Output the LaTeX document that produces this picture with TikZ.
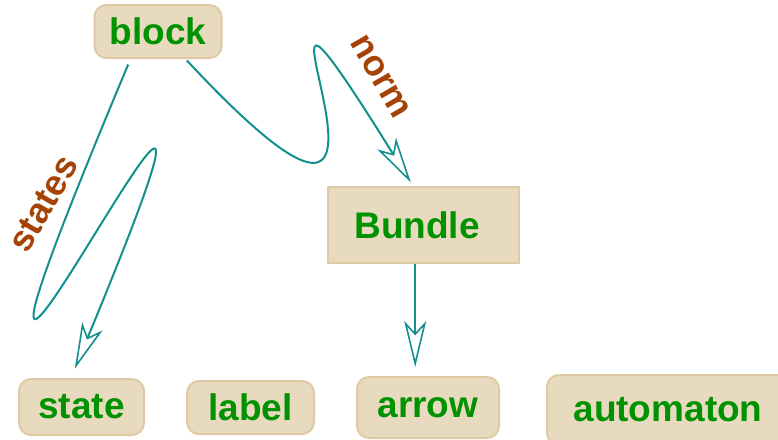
\documentclass[tikz,border=0pt]{standalone}
\usepackage{fontspec}
\setmainfont{Liberation Sans}
\usetikzlibrary{arrows.meta,calc}
\definecolor{boxfill}{RGB}{232,218,190}
\definecolor{boxline}{RGB}{222,202,164}
\definecolor{labelgreen}{RGB}{0,146,0}
\definecolor{edgebrown}{RGB}{165,66,6}
\definecolor{linkteal}{RGB}{18,143,143}
\begin{document}
\begin{tikzpicture}[x=1pt,y=-1pt,
  box/.style={draw=boxline, fill=boxfill, line width=2pt, rounded corners=12pt,
    text=labelgreen, font=\fontsize{37}{40}\selectfont\bfseries, inner sep=0pt},
  sharpbox/.style={box, sharp corners},
  link/.style={draw=linkteal, line width=2pt,
    -{Stealth[open, length=46pt, width=22pt, inset=12pt, line width=1.6pt]}},
  elabel/.style={text=edgebrown, font=\fontsize{36}{40}\selectfont\bfseries, inner xsep=2pt}]
\useasboundingbox (0,0) rectangle (778,439);

% boxes
\node[box, minimum width=127pt, minimum height=53pt] (block) at (158,31.5) {block};
\node[sharpbox, minimum width=191pt, minimum height=76pt] (Bundle) at (423.5,225) {\kern-13pt Bundle};
\node[box, minimum width=125pt, minimum height=56pt] (state) at (81.5,407) {state};
\node[box, minimum width=127pt, minimum height=53pt] (label) at (250.5,407.5) {label};
\node[box, minimum width=142pt, minimum height=61pt] (arrow) at (428,407.5) {arrow};
\node[box, minimum width=242pt, minimum height=70pt] (automaton) at (668,410) {automaton};

% connectors
\draw[link, shorten <=6pt, shorten >=10pt] (block.-135)
  .. controls (-161,754) and (327,-240) .. (state.110)
  node[elabel, inner ysep=13pt, pos=0.097, rotate=60, anchor=south] {states};
\draw[link, shorten <=2pt, shorten >=4pt] (block.-45)
  .. controls (483,378) and (188,-175) .. (Bundle.105)
  node[elabel, inner ysep=21pt, pos=0.88, rotate=-60, anchor=south] {norm};
\draw[link, shorten >=9pt] (Bundle.258) -- (Bundle.258 |- arrow.north);
\end{tikzpicture}
\end{document}
